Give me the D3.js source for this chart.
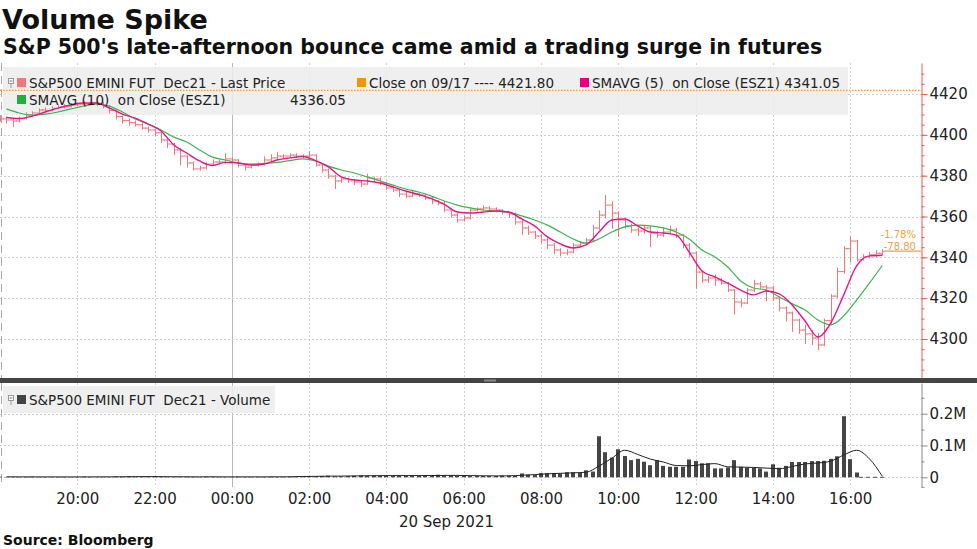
<!DOCTYPE html>
<html>
<head>
<meta charset="utf-8">
<title>Volume Spike</title>
<style>
  body { margin: 0; background: #fff; }
  svg { display: block; font-family: "DejaVu Sans", sans-serif; }
  .title { font-size: 27px; font-weight: bold; fill: #111; }
  .subtitle { font-size: 20.5px; font-weight: bold; fill: #111; }
  .source { font-size: 14px; font-weight: bold; fill: #111; }
  .legend text { font-size: 13.5px; fill: #222; white-space: pre; }
  .grid line { stroke: #cfcfcf; stroke-dasharray: 2,2; }
  .axis text { font-size: 15px; fill: #222; font-family: "DejaVu Sans", sans-serif; }
</style>
<script src="https://cdnjs.cloudflare.com/ajax/libs/d3/7.8.5/d3.min.js"></script>
</head>
<body>
<svg width="977" height="549"></svg>
<script>

// 10-minute bars, ESZ1, from 18:00 on 19 Sep 2021
var closes = [
  4407.8, 4407.3, 4406.8, 4408.0, 4409.7, 4410.7, 4412.2, 4412.0, 4413.0, 4413.6,
  4414.0, 4414.6, 4415.0, 4415.0, 4415.6, 4415.0, 4414.0, 4412.0, 4409.0, 4407.0,
  4406.0, 4405.0, 4403.3, 4402.4, 4401.0, 4397.5, 4395.5, 4392.6, 4389.6, 4386.2,
  4383.3, 4383.8, 4385.7, 4386.7, 4386.7, 4388.2, 4387.7, 4385.2, 4384.2, 4385.2,
  4385.7, 4387.7, 4388.7, 4389.6, 4389.6, 4390.1, 4389.6, 4389.6, 4390.1, 4385.2,
  4382.8, 4379.8, 4377.4, 4378.4, 4377.9, 4376.9, 4375.9, 4378.9, 4378.4, 4376.4,
  4374.0, 4373.0, 4371.0, 4370.0, 4371.0, 4370.5, 4369.0, 4367.6, 4366.6, 4363.2,
  4360.7, 4358.3, 4359.3, 4363.2, 4363.7, 4364.2, 4363.7, 4363.2, 4362.2, 4361.2,
  4357.3, 4354.4, 4352.4, 4350.5, 4348.5, 4346.0, 4343.6, 4342.1, 4342.6, 4346.0,
  4347.0, 4348.5, 4354.4, 4360.7, 4365.6, 4361.7, 4358.3, 4355.4, 4353.4, 4352.9,
  4354.4, 4351.9, 4350.9, 4352.4, 4353.4, 4350.9, 4346.0, 4342.1, 4332.8, 4328.9,
  4329.9, 4328.9, 4327.4, 4324.0, 4318.1, 4317.6, 4324.0, 4327.0, 4325.5, 4325.0,
  4320.1, 4315.2, 4312.8, 4309.3, 4304.4, 4302.5, 4300.5, 4297.1, 4309.0, 4321.0,
  4333.0, 4344.25, 4348.0, 4338.75, 4340.25, 4341.25, 4342.0, 4343.0
];
var opens = [
  4408.5, 4407.8, 4407.3, 4406.8, 4408.0, 4409.7, 4410.7, 4412.2, 4412.0, 4413.0,
  4413.6, 4414.0, 4414.6, 4415.0, 4415.0, 4415.6, 4415.0, 4414.0, 4412.0, 4409.0,
  4407.0, 4406.0, 4405.0, 4403.3, 4402.4, 4401.0, 4397.5, 4395.5, 4392.6, 4389.6,
  4386.2, 4383.3, 4383.8, 4385.7, 4386.7, 4386.7, 4388.2, 4387.7, 4385.2, 4384.2,
  4385.2, 4385.7, 4387.7, 4388.7, 4389.6, 4389.6, 4390.1, 4389.6, 4389.6, 4390.1,
  4385.2, 4382.8, 4379.8, 4377.4, 4378.4, 4377.9, 4376.9, 4375.9, 4378.9, 4378.4,
  4376.4, 4374.0, 4373.0, 4371.0, 4370.0, 4371.0, 4370.5, 4369.0, 4367.6, 4366.6,
  4363.2, 4360.7, 4358.3, 4359.3, 4363.2, 4363.7, 4364.2, 4363.7, 4363.2, 4362.2,
  4361.2, 4357.3, 4354.4, 4352.4, 4350.5, 4348.5, 4346.0, 4343.6, 4342.1, 4342.6,
  4346.0, 4347.0, 4348.5, 4354.4, 4360.7, 4365.6, 4361.7, 4358.3, 4355.4, 4353.4,
  4352.9, 4354.4, 4351.9, 4350.9, 4352.4, 4353.4, 4350.9, 4346.0, 4342.1, 4332.8,
  4328.9, 4329.9, 4328.9, 4327.4, 4324.0, 4318.1, 4317.6, 4324.0, 4327.0, 4325.5,
  4325.0, 4320.1, 4315.2, 4312.8, 4309.3, 4304.4, 4302.5, 4300.5, 4297.1, 4309.0,
  4321.0, 4333.0, 4344.25, 4348.0, 4338.75, 4340.25, 4341.25, 4342.0
];
var highs = [
  4409.5, 4409.0, 4408.0, 4409.0, 4411.0, 4411.5, 4413.0, 4413.5, 4414.0, 4414.5,
  4415.0, 4415.5, 4416.0, 4416.5, 4416.5, 4416.5, 4416.0, 4414.5, 4412.5, 4409.5,
  4408.0, 4407.0, 4406.0, 4404.0, 4403.0, 4401.5, 4398.5, 4396.0, 4393.5, 4390.0,
  4387.0, 4385.0, 4386.5, 4388.0, 4388.0, 4391.0, 4389.0, 4388.0, 4385.5, 4386.0,
  4386.5, 4389.5, 4390.5, 4391.5, 4390.5, 4391.0, 4391.0, 4390.5, 4392.0, 4390.5,
  4386.0, 4383.5, 4380.5, 4379.5, 4379.0, 4378.5, 4377.5, 4381.0, 4379.5, 4379.0,
  4377.0, 4375.0, 4373.5, 4372.0, 4372.5, 4371.5, 4371.0, 4369.5, 4368.0, 4367.5,
  4364.0, 4361.5, 4360.5, 4364.0, 4364.5, 4365.5, 4365.0, 4364.5, 4363.5, 4362.5,
  4362.0, 4358.5, 4355.5, 4353.0, 4351.5, 4349.5, 4347.0, 4344.5, 4344.0, 4347.0,
  4348.0, 4349.5, 4356.0, 4363.0, 4370.5, 4367.5, 4362.5, 4359.5, 4356.5, 4354.5,
  4356.0, 4355.5, 4353.0, 4355.0, 4355.5, 4354.5, 4351.5, 4347.0, 4343.0, 4333.5,
  4331.0, 4331.5, 4330.0, 4328.0, 4324.5, 4319.5, 4325.0, 4329.0, 4328.0, 4326.5,
  4326.0, 4321.0, 4316.0, 4313.5, 4310.0, 4307.0, 4304.5, 4303.0, 4310.0, 4322.0,
  4335.0, 4345.5, 4350.0, 4348.5, 4341.5, 4342.5, 4343.5, 4344.0
];
var lows = [
  4406.5, 4405.5, 4403.8, 4406.0, 4407.5, 4409.0, 4410.0, 4411.0, 4411.5, 4412.5,
  4413.0, 4413.5, 4414.0, 4414.0, 4414.5, 4414.0, 4413.0, 4410.5, 4407.5, 4405.5,
  4404.5, 4404.0, 4402.5, 4401.0, 4399.5, 4396.0, 4393.5, 4390.0, 4385.0, 4384.0,
  4382.5, 4382.5, 4383.0, 4385.0, 4385.5, 4386.0, 4386.5, 4384.0, 4382.5, 4383.5,
  4384.5, 4385.0, 4387.0, 4388.0, 4388.5, 4389.0, 4388.5, 4388.5, 4389.0, 4384.5,
  4381.5, 4378.5, 4373.5, 4376.5, 4376.5, 4375.5, 4374.5, 4375.5, 4377.0, 4375.5,
  4373.0, 4372.0, 4369.5, 4369.0, 4369.5, 4369.5, 4368.0, 4366.0, 4365.5, 4362.0,
  4359.5, 4357.0, 4357.5, 4358.5, 4362.5, 4363.0, 4362.5, 4362.0, 4361.0, 4359.5,
  4356.0, 4351.0, 4351.0, 4349.0, 4347.0, 4344.0, 4341.5, 4340.5, 4341.0, 4342.0,
  4345.0, 4346.0, 4347.5, 4353.5, 4359.0, 4354.0, 4350.0, 4354.0, 4352.0, 4350.5,
  4351.5, 4345.0, 4349.5, 4350.0, 4351.5, 4349.5, 4344.5, 4340.0, 4324.5, 4327.5,
  4327.5, 4326.0, 4326.5, 4323.0, 4312.0, 4315.5, 4317.0, 4323.0, 4324.5, 4318.5,
  4318.5, 4313.5, 4308.5, 4303.5, 4302.5, 4297.5, 4297.0, 4294.5, 4296.5, 4307.5,
  4320.0, 4332.0, 4337.5, 4338.0, 4338.5, 4339.5, 4340.0, 4341.0
];

// volume per bar, thousands of contracts
var volumeK = [
  2, 1, 1, 1, 1, 2, 1, 1, 1, 1,
  1, 1, 1, 2, 1, 1, 1, 1, 2, 2,
  3, 2, 2, 2, 3, 2, 1, 1, 1, 2,
  1, 1, 2, 2, 1, 1, 1, 2, 1, 1,
  1, 1, 2, 1, 1, 2, 2, 3, 3, 3,
  4, 5, 3, 3, 4, 5, 6, 5, 5, 5,
  5, 5, 5, 5, 6, 5, 5, 6, 8, 6,
  6, 5, 5, 4, 4, 4, 4, 4, 5, 5,
  5, 12, 8, 7, 13, 13, 13, 12, 16, 16,
  15, 22, 18, 129, 79, 62, 88, 67, 54, 58,
  49, 38, 54, 36, 33, 33, 33, 56, 51, 44,
  44, 28, 28, 31, 54, 33, 30, 30, 28, 18,
  41, 30, 36, 48, 48, 48, 51, 51, 52, 58,
  66, 192, 57, 15, 0, 0, 0, 0
];

// studies at every other bar (bars 1, 3, 5 ... 137)
var sma5 = [
  4408.5, 4408.0, 4409.2, 4411.2, 4413.1, 4414.6, 4415.6, 4415.6, 4413.1, 4410.2,
  4408.2, 4405.3, 4401.9, 4395.0, 4391.1, 4387.2, 4385.0, 4386.5, 4386.2, 4385.2,
  4385.7, 4387.7, 4388.7, 4389.4, 4387.4, 4384.3, 4379.4, 4377.9, 4377.4, 4376.4,
  4374.5, 4372.5, 4370.8, 4368.8, 4365.9, 4362.2, 4361.7, 4362.2, 4362.7, 4362.2,
  4358.8, 4355.4, 4350.0, 4346.6, 4344.6, 4346.1, 4352.4, 4358.3, 4358.8, 4355.4,
  4352.4, 4351.9, 4350.9, 4342.6, 4333.3, 4330.4, 4327.4, 4324.0, 4321.6, 4323.5,
  4322.1, 4316.7, 4308.8, 4301.0, 4307.9, 4321.6, 4335.8, 4340.7, 4341.05
];
var sma10 = [
  4412.7, 4410.7, 4409.7, 4410.2, 4411.2, 4412.7, 4414.1, 4415.1, 4414.1, 4411.2,
  4407.8, 4405.3, 4402.4, 4398.9, 4396.5, 4392.6, 4389.1, 4387.7, 4386.2, 4385.7,
  4386.0, 4386.5, 4387.4, 4388.2, 4387.2, 4384.7, 4382.8, 4381.3, 4379.4, 4377.4,
  4375.4, 4373.5, 4372.0, 4370.0, 4367.6, 4365.6, 4364.2, 4363.2, 4362.7, 4362.0,
  4360.3, 4358.3, 4355.8, 4352.4, 4349.0, 4347.0, 4349.0, 4352.4, 4354.9, 4355.8,
  4355.4, 4354.4, 4352.4, 4349.0, 4343.6, 4340.2, 4335.3, 4328.4, 4325.0, 4324.0,
  4320.6, 4317.2, 4314.2, 4309.3, 4306.9, 4311.3, 4319.1, 4327.4, 4336.05
];
var volAvgK = [
  1.5, 1.4, 1.3, 1.2, 1.3, 1.2, 1.2, 1.4, 1.5, 1.6,
  2.0, 2.2, 2.0, 1.8, 1.5, 1.4, 1.5, 1.4, 1.3, 1.4,
  1.3, 1.5, 1.6, 2.5, 3.0, 3.6, 3.8, 4.2, 4.8, 5.1,
  5.3, 5.4, 5.4, 5.6, 6.0, 6.0, 5.3, 4.8, 4.4, 4.6,
  6.5, 8.5, 11, 12.5, 14, 16, 35, 60, 85, 72,
  57, 48, 37, 36, 40, 43, 33, 32, 31, 29,
  27, 34, 42, 45, 51, 70, 85, 58, 3
];

var priorClose = 4421.80,
    priceTicks = [4300, 4320, 4340, 4360, 4380, 4400, 4420],
    volumeTicks = [0, 100, 200],
    legendRow1 = ["S&P500 EMINI FUT  Dec21 - Last Price", "Close on 09/17 ---- 4421.80", "SMAVG (5)  on Close (ESZ1) 4341.05"],
    legendRow2 = ["SMAVG (10)  on Close (ESZ1)", "4336.05"],
    volumeLegend = "S&P500 EMINI FUT  Dec21 - Volume";

var colBar = "#f07878", colSma5 = "#e5168c", colSma10 = "#3db54f",
    colClose = "#f0a040", colAxis = "#f05a5a";

var start = new Date(2021, 8, 19, 18, 0),
    end = new Date(2021, 8, 20, 17, 50);
function barTime(i) { return d3.timeMinute.offset(start, 10 * i); }

var svg = d3.select("svg"),
    plotRight = 921,
    priceTop = 63, priceBottom = 378,
    volTop = 383, volBottom = 487;

var x = d3.scaleTime().domain([start, end]).range([0, plotRight]);
var y = d3.scaleLinear().domain([4280.9, 4435.2]).range([priceBottom, priceTop]);
var vy = d3.scaleLinear().domain([-30.5, 296.5]).range([volBottom, volTop]);

var bars = closes.map(function(c, i) {
    return {t: barTime(i), o: opens[i], h: highs[i], l: lows[i], c: c, v: volumeK[i]};
});
function studyPoints(arr) {
    return arr.map(function(v, k) { return {t: barTime(2 * k + 1), v: v}; });
}
// plain hyphen for negatives, as on the terminal
function fmt2(v) { return d3.format(".2f")(v).replace("\u2212", "-"); }

// titles
svg.append("text").attr("class", "title").attr("x", 2).attr("y", 29).text("Volume Spike");
svg.append("text").attr("class", "subtitle").attr("x", 3).attr("y", 54)
    .text("S&P 500's late-afternoon bounce came amid a trading surge in futures");
svg.append("text").attr("class", "source").attr("x", 3).attr("y", 545).text("Source: Bloomberg");

// grid
var hours = d3.range(2, 23, 2).map(function(h) { return d3.timeHour.offset(start, h); });
var grid = svg.append("g").attr("class", "grid");
[[priceTop, priceBottom], [volTop, volBottom]].forEach(function(r) {
    grid.selectAll(null).data(hours).enter().append("line")
        .attr("x1", function(d) { return Math.round(x(d)) + 0.5; })
        .attr("x2", function(d) { return Math.round(x(d)) + 0.5; })
        .attr("y1", r[0]).attr("y2", r[1])
        .style("stroke", function(d) { return d.getHours() === 0 ? "#b8b8b8" : null; })
        .style("stroke-dasharray", function(d) { return d.getHours() === 0 ? "none" : null; });
});
grid.selectAll(null).data(priceTicks).enter().append("line")
    .attr("x1", 0).attr("x2", plotRight)
    .attr("y1", function(d) { return Math.round(y(d)) + 0.5; })
    .attr("y2", function(d) { return Math.round(y(d)) + 0.5; });
grid.selectAll(null).data(volumeTicks).enter().append("line")
    .attr("x1", 0).attr("x2", plotRight)
    .attr("y1", function(d) { return Math.round(vy(d)) + 0.5; })
    .attr("y2", function(d) { return Math.round(vy(d)) + 0.5; });

// dashed left edge
[[priceTop, priceBottom], [volTop, volBottom]].forEach(function(r) {
    svg.append("line").attr("x1", 1.5).attr("x2", 1.5).attr("y1", r[0]).attr("y2", r[1])
        .attr("stroke", "#aaa").attr("stroke-dasharray", "8,5");
});

// legend boxes
svg.append("rect").attr("x", 3).attr("y", 67).attr("width", 845).attr("height", 48)
    .attr("fill", "#ececec").attr("opacity", 0.85);
svg.append("rect").attr("x", 3).attr("y", 386).attr("width", 272).attr("height", 27)
    .attr("fill", "#ececec").attr("opacity", 0.85);

// prior close line
svg.append("line").attr("x1", 0).attr("x2", plotRight)
    .attr("y1", y(priorClose)).attr("y2", y(priorClose))
    .attr("stroke", colClose).attr("stroke-width", 1.2).attr("stroke-dasharray", "1.5,1.5");

// OHLC bars
svg.append("g").attr("fill", "none").attr("stroke", colBar).attr("stroke-width", 1)
  .selectAll("path").data(bars).enter().append("path")
    .attr("d", function(d) {
        var cx = Math.round(x(d.t)) + 0.5;
        return "M" + cx + "," + y(d.h) + "V" + y(d.l) +
               "M" + (cx - 3.5) + "," + y(d.o) + "H" + cx +
               "M" + cx + "," + y(d.c) + "H" + (cx + 3.5);
    });

// moving averages
var line = d3.line().x(function(d) { return x(d.t); }).y(function(d) { return y(d.v); })
    .curve(d3.curveMonotoneX);
svg.append("path").datum(studyPoints(sma10)).attr("d", line)
    .attr("fill", "none").attr("stroke", colSma10).attr("stroke-width", 1.2);
svg.append("path").datum(studyPoints(sma5)).attr("d", line)
    .attr("fill", "none").attr("stroke", colSma5).attr("stroke-width", 1.4);

// last price marker
var last = bars[bars.length - 1];
svg.append("line").attr("x1", x(last.t) + 3).attr("x2", plotRight)
    .attr("y1", y(last.c)).attr("y2", y(last.c)).attr("stroke", colClose).attr("stroke-width", 1.2);
var chg = last.c - priorClose;
svg.append("text").attr("x", 916).attr("y", y(last.c) - 13).attr("text-anchor", "end")
    .attr("font-size", 10).attr("fill", colClose).text(fmt2(chg / priorClose * 100) + "%");
svg.append("text").attr("x", 916).attr("y", y(last.c) - 1.5).attr("text-anchor", "end")
    .attr("font-size", 10).attr("fill", colClose).text(fmt2(chg));

// volume bars
svg.append("g").selectAll("rect").data(bars.filter(function(d) { return d.v > 0; })).enter().append("rect")
    .attr("x", function(d) { return Math.round(x(d.t)) - 2; })
    .attr("width", 4)
    .attr("y", function(d) { return vy(d.v); })
    .attr("height", function(d) { return vy(0) - vy(d.v); })
    .attr("fill", "#454545");
var zeroBars = bars.filter(function(d) { return d.v === 0; });
svg.append("line").attr("x1", x(zeroBars[0].t) - 4).attr("x2", x(zeroBars[zeroBars.length - 1].t) + 2)
    .attr("y1", vy(0)).attr("y2", vy(0)).attr("stroke", "#555").attr("stroke-dasharray", "4,3");
var vline = d3.line().x(function(d) { return x(d.t); }).y(function(d) { return vy(d.v); })
    .curve(d3.curveMonotoneX);
svg.append("path").datum(studyPoints(volAvgK)).attr("d", vline)
    .attr("fill", "none").attr("stroke", "#222").attr("stroke-width", 1);

// panel separator
svg.append("rect").attr("x", 0).attr("y", 378).attr("width", 977).attr("height", 5).attr("fill", "#444");
svg.append("rect").attr("x", 484).attr("y", 379.5).attr("width", 12).attr("height", 2).attr("fill", "#888");

// legends
function icon(g, yy) {
    g.append("rect").attr("x", 8.5).attr("y", yy - 9.5).attr("width", 5).attr("height", 5)
        .attr("fill", "#fff").attr("stroke", "#999");
    g.append("line").attr("x1", 9.5).attr("x2", 12.5).attr("y1", yy - 7).attr("y2", yy - 7).attr("stroke", "#777");
    g.append("line").attr("x1", 11).attr("x2", 11).attr("y1", yy - 4.5).attr("y2", yy).attr("stroke", "#999");
}
var leg = svg.append("g").attr("class", "legend");
icon(leg, 88);
[[17, 88, colBar, legendRow1[0]], [357, 88, "#f0940a", legendRow1[1]], [580, 88, "#e6007e", legendRow1[2]],
 [17, 105, "#1faf3c", legendRow2[0]]].forEach(function(e) {
    leg.append("rect").attr("x", e[0]).attr("y", e[1] - 10).attr("width", 9).attr("height", 9).attr("fill", e[2]);
    leg.append("text").attr("x", e[0] + 12).attr("y", e[1]).text(e[3]);
});
leg.append("text").attr("x", 290).attr("y", 105).text(legendRow2[1]);
icon(leg, 405);
leg.append("rect").attr("x", 17).attr("y", 395).attr("width", 9).attr("height", 9).attr("fill", "#444");
leg.append("text").attr("x", 29).attr("y", 405).text(volumeLegend);

// price axis (right)
var gy = svg.append("g").attr("class", "axis").attr("transform", "translate(" + (plotRight + 0.5) + ",0)")
    .call(d3.axisRight(y).tickValues(priceTicks).tickSize(6).tickSizeOuter(0).tickPadding(2).tickFormat(d3.format("d")));
gy.select(".domain").attr("stroke", colAxis);
gy.selectAll(".tick line").attr("stroke", colAxis);
var gym = svg.append("g").attr("transform", "translate(" + (plotRight + 0.5) + ",0)")
    .call(d3.axisRight(y).tickValues(d3.range(4285, 4435, 5)).tickSize(3).tickFormat(""));
gym.select(".domain").remove();
gym.selectAll(".tick line").attr("stroke", colAxis);

// volume axis (right)
var gv = svg.append("g").attr("class", "axis").attr("transform", "translate(" + (plotRight + 0.5) + ",0)")
    .call(d3.axisRight(vy).tickValues(volumeTicks).tickSize(6).tickSizeOuter(0).tickPadding(2)
        .tickFormat(function(d) { return d === 0 ? "0" : d3.format(".1f")(d / 1000) + "M"; }));
gv.select(".domain").attr("stroke", "#888");
gv.selectAll(".tick line").attr("stroke", "#888");
var gvm = svg.append("g").attr("transform", "translate(" + (plotRight + 0.5) + ",0)")
    .call(d3.axisRight(vy).tickValues([-30, 50, 150, 250]).tickSize(3).tickFormat(""));
gvm.select(".domain").remove();
gvm.selectAll(".tick line").attr("stroke", "#888");

// time axis
var gx = svg.append("g").attr("class", "axis").attr("transform", "translate(0," + volBottom + ")")
    .call(d3.axisBottom(x).tickValues(hours).tickSize(0).tickPadding(6).tickFormat(d3.timeFormat("%H:%M")));
gx.select(".domain").remove();
svg.append("text").attr("class", "axis").attr("x", 494).attr("y", 527).attr("text-anchor", "end")
    .attr("font-size", 15).attr("fill", "#222").text("20 Sep 2021");

</script>
</body>
</html>
